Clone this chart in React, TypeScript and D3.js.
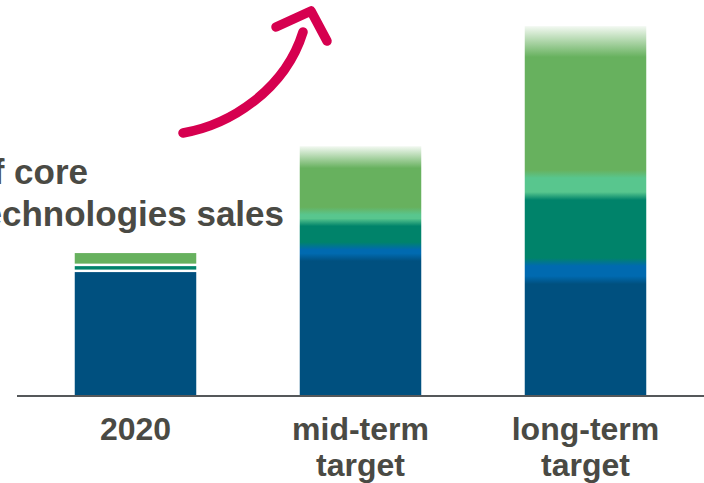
import React from "react";
import * as d3 from "d3";

// Categories along the x axis (each label may wrap onto two lines)
const categories = ["2020", "mid-term", "long-term"];
const categoryLabels = [["2020"], ["mid-term", "target"], ["long-term", "target"]];

// Stacked components of core technologies sales (index units, bottom to top)
const seriesKeys = ["base", "growthA", "growthB", "growthC", "growthD", "outlook"];
const baseValues = [86.6, 97.2, 81.0];
const growthAValues = [0, 7.7, 12.7];
const growthBValues = [4.2, 16.9, 46.5];
const growthCValues = [0, 7.7, 15.5];
const growthDValues = [9.2, 30.3, 82.4];
const outlookValues = [0, 15.5, 21.8];

const caption = ["Ratio of core", "technologies sales"];

const WIDTH = 704;
const HEIGHT = 483;
const BASELINE = 395.5;

const colors: Record<string, string> = {
  base: "#00507f",
  growthA: "#006ab0",
  growthB: "#00836a",
  growthC: "#58c68e",
  growthD: "#67b15e",
  outlook: "#67b15e",
};

const TEXT_COLOR = "#4a4a44";
const FONT = "'Liberation Sans', Arial, Helvetica, sans-serif";

export default function App() {
  const rows = categories.map((c, i) => ({
    category: c,
    base: baseValues[i],
    growthA: growthAValues[i],
    growthB: growthBValues[i],
    growthC: growthCValues[i],
    growthD: growthDValues[i],
    outlook: outlookValues[i],
  }));

  const stacked = d3.stack<any>().keys(seriesKeys)(rows);

  const x = d3
    .scaleBand<string>()
    .domain(categories)
    .range([23, 698])
    .paddingInner(0.46)
    .paddingOuter(0.23);

  const y = d3.scaleLinear().domain([0, 260]).range([BASELINE - 0.5, 26]);

  const blend = 4; // half-width (px) of the soft transition between segments
  const gap = 2.5; // white separator for bars drawn as discrete blocks

  return (
    <div style={{ position: "fixed", left: 0, top: 0 }}>
      <svg width={WIDTH} height={HEIGHT} style={{ display: "block", background: "#fff" }}>
        <defs>
          {categories.map((c, i) => {
            const bottom = y(0);
            const total = d3.sum(seriesKeys, (k) => (rows[i] as any)[k]);
            const top = y(total);
            const span = bottom - top;
            const stops: { off: number; color: string; opacity: number }[] = [];
            stacked.forEach((layer) => {
              const [v0, v1] = layer[i];
              if (v1 - v0 <= 0) return;
              const y0 = y(v0);
              const y1 = y(v1);
              const key = layer.key;
              if (key === "outlook") {
                stops.push({ off: (bottom - y0) / span, color: colors[key], opacity: 1 });
                stops.push({ off: 1, color: colors[key], opacity: 0.08 });
                return;
              }
              const h = y0 - y1;
              const w = Math.min(blend, h / 3);
              const isFirst = v0 === 0;
              const isLast = Math.abs(v1 - total) < 1e-9;
              stops.push({ off: (bottom - (isFirst ? y0 : y0 - w)) / span, color: colors[key], opacity: 1 });
              stops.push({ off: (bottom - (isLast ? y1 : y1 + w)) / span, color: colors[key], opacity: 1 });
            });
            return (
              <linearGradient
                key={c}
                id={`grad-${i}`}
                gradientUnits="userSpaceOnUse"
                x1={0}
                x2={0}
                y1={bottom}
                y2={top}
              >
                {stops.map((s, j) => (
                  <stop key={j} offset={s.off} stopColor={s.color} stopOpacity={s.opacity} />
                ))}
              </linearGradient>
            );
          })}
        </defs>

        {/* bars */}
        {categories.map((c, i) => {
          const bx = x(c)!;
          const bw = x.bandwidth();
          const total = d3.sum(seriesKeys, (k) => (rows[i] as any)[k]);
          const blended = outlookValues[i] > 0;
          if (blended) {
            return (
              <rect
                key={c}
                x={bx}
                y={y(total)}
                width={bw}
                height={y(0) - y(total)}
                fill={`url(#grad-${i})`}
              />
            );
          }
          return (
            <g key={c}>
              {stacked.map((layer) => {
                const [v0, v1] = layer[i];
                if (v1 - v0 <= 0) return null;
                const bottomPx = v0 === 0 ? y(v0) : y(v0) - gap;
                return (
                  <rect
                    key={layer.key}
                    x={bx}
                    y={y(v1)}
                    width={bw}
                    height={bottomPx - y(v1)}
                    fill={colors[layer.key]}
                  />
                );
              })}
            </g>
          );
        })}

        {/* baseline */}
        <line x1={17} x2={WIDTH} y1={BASELINE + 0.5} y2={BASELINE + 0.5} stroke="#55585a" strokeWidth={2} />

        {/* category labels */}
        {categories.map((c, i) => (
          <text
            key={c}
            x={x(c)! + x.bandwidth() / 2}
            textAnchor="middle"
            fontFamily={FONT}
            fontWeight="bold"
            fontSize={32}
            fill={TEXT_COLOR}
          >
            {categoryLabels[i].map((line, j) => (
              <tspan key={j} x={x(c)! + x.bandwidth() / 2} y={440 + j * 36}>
                {line}
              </tspan>
            ))}
          </text>
        ))}

        {/* caption */}
        <text fontFamily={FONT} fontWeight="bold" fontSize={35} fill={TEXT_COLOR} textAnchor="end">
          <tspan x={88} y={184}>
            {caption[0]}
          </tspan>
          <tspan x={284} y={226}>
            {caption[1]}
          </tspan>
        </text>

        {/* growth arrow */}
        <g fill="none" stroke="#d6004f" strokeWidth={9.5} strokeLinecap="round" strokeLinejoin="round">
          <path d="M183,133 C230,125 285,90 303,32" />
          <path d="M276,27 L311,11 L327,41" />
        </g>
      </svg>
    </div>
  );
}
